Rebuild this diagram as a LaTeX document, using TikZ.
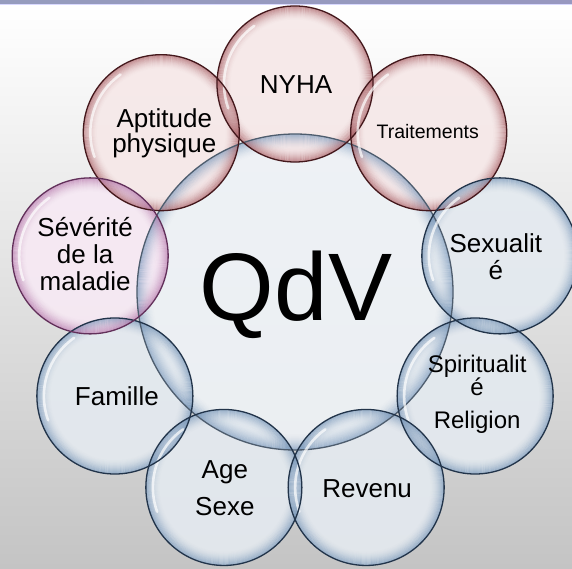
\documentclass[tikz,border=0pt]{standalone}
\usepackage{fontspec}
\setmainfont{Liberation Sans}
\usetikzlibrary{calc}

\definecolor{blueIn}{HTML}{E4EAF0}
\definecolor{blueRim}{HTML}{6C8DB2}
\definecolor{blueLine}{HTML}{22344A}
\definecolor{redIn}{HTML}{F6E8E8}
\definecolor{redRim}{HTML}{A2545A}
\definecolor{redLine}{HTML}{44181C}
\definecolor{violetIn}{HTML}{F7E9F4}
\definecolor{violetRim}{HTML}{B070A6}
\definecolor{violetLine}{HTML}{62305A}
\definecolor{coreIn}{HTML}{EEF2F6}
\definecolor{coreRim}{HTML}{7796BA}
\definecolor{bgMid}{HTML}{EBEBEB}
\definecolor{bgLow}{HTML}{C4C4C4}

\tikzset{
    inside/.style={fill=#1, fill opacity=0.9},
    rim/.style={draw=#1, line width=1.3pt},
    shine/.style={white, opacity=0.7, line width=2.6pt, line cap=round},
    label/.style={align=center, text=black, font=\fontsize{26}{27}\selectfont}
}

\begin{document}
\begin{tikzpicture}[x=1pt,y=1pt]

        \useasboundingbox (0,0) rectangle (572,568);

        % Background
        \shade[top color=white, middle color=bgMid, bottom color=bgLow] (0,0) rectangle (572,563);
        \shade[left color={rgb,255:red,150;green,156;blue,190}, middle color={rgb,255:red,134;green,163;blue,193}, right color={rgb,255:red,152;green,152;blue,192}] (0,563.5) rectangle (572,568);
        \fill[white!85!blue] (0,562.5) rectangle (572,563.5);

        % Centre
        \coordinate (qdv) at (295,276);

        % Ring positions
        \begin{scope}[shift={(qdv)}]
            \coordinate (nyha) at (90:208);
            \coordinate (trait) at (50:208);
            \coordinate (sexe) at (10:208);
            \coordinate (spirit) at (-30:208);
            \coordinate (revenu) at (-70:208);
            \coordinate (age) at (-110:208);
            \coordinate (famille) at (-150:208);
            \coordinate (severite) at (170:208);
            \coordinate (aptitude) at (130:208);
        \end{scope}

        % Insides
        \fill[inside=coreIn] (qdv) circle (158);
        \foreach \c/\s in {nyha/redIn, trait/redIn, aptitude/redIn,
                           sexe/blueIn, spirit/blueIn, revenu/blueIn,
                           age/blueIn, famille/blueIn, severite/violetIn}
            {
                \fill[inside=\s] (\c) circle (78);
            }

        % Rim glow
        \foreach \k in {0,...,15}
            \draw[coreRim, line width=1.1pt, opacity={0.6*(1-\k/16)^1.8}] (qdv) circle ({157.5-\k});
        \foreach \c/\s in {nyha/redRim, trait/redRim, aptitude/redRim,
                           sexe/blueRim, spirit/blueRim, revenu/blueRim,
                           age/blueRim, famille/blueRim, severite/violetRim}
            {
                \foreach \k in {0,...,13}
                    \draw[\s, line width=1.1pt, opacity={0.58*(1-\k/14)^1.8}] (\c) circle ({77.5-\k});
            }

        % Rims
        \draw[rim=blueLine!80] (qdv) circle (158);
        \foreach \c/\l in {nyha/redLine, trait/redLine, aptitude/redLine,
                           sexe/blueLine, spirit/blueLine, revenu/blueLine,
                           age/blueLine, famille/blueLine, severite/violetLine}
            {
                \draw[rim=\l] (\c) circle (78);
                \draw[shine] ($(\c)+(125:71)$) arc (125:200:71);
            }

        % Labels
        \node (qdvtext) at ($(qdv)+(1,-3)$) {\fontsize{96}{96}\selectfont QdV};
        \node[label] (nyhatext) at ($(nyha)+(1,-1)$) {NYHA};
        \node[label, font=\fontsize{19.5}{22}\selectfont] (traittext) at ($(trait)+(-1,1)$) {Traitements};
        \node[label, font=\fontsize{26}{25}\selectfont] (aptitudetext) at ($(aptitude)+(3,-1)$) {Aptitude\\physique};
        \node[label] (severitetext) at ($(severite)+(-5,2)$) {Sévérité\\de la\\maladie};
        \node[label] (sexetext) at ($(sexe)+(-4,-1)$) {Sexualit\\é};
        \node[label, font=\fontsize{24}{23}\selectfont] (spirittext) at ($(spirit)+(2,2)$) {Spiritualit\\é\\[10pt]Religion};
        \node[label] (revenutext) at ($(revenu)+(1,-1)$) {Revenu};
        \node[label] (agetext) at ($(age)+(1,-1)$) {Age\\[10pt]Sexe};
        \node[label] (familletext) at ($(famille)+(2,0)$) {Famille};

    \end{tikzpicture}
\end{document}
